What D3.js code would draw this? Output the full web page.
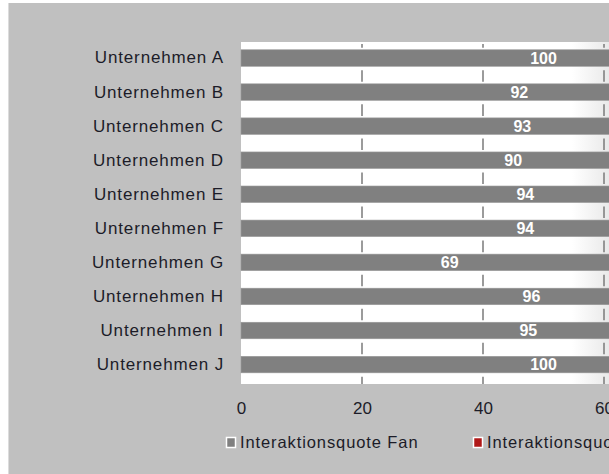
<!DOCTYPE html>
<html>
<head>
<meta charset="utf-8">
<script src="https://cdn.jsdelivr.net/npm/d3@7"></script>
<style>
  html, body { margin: 0; padding: 0; background: #fff; }
  svg { display: block; }
  text { font-family: "Liberation Sans", Arial, sans-serif; }
</style>
</head>
<body>
<svg id="chart" width="609" height="474"></svg>
<script>
// Unternehmen und ihre Interaktionsquote der Fans (in %)
const categories = ["Unternehmen A", "Unternehmen B", "Unternehmen C", "Unternehmen D", "Unternehmen E",
                    "Unternehmen F", "Unternehmen G", "Unternehmen H", "Unternehmen I", "Unternehmen J"];
const fanValues = [100, 92, 93, 90, 94, 94, 69, 96, 95, 100];
const xTicks = [0, 20, 40, 60];
const seriesNames = ["Interaktionsquote Fan", "Interaktionsquote Nicht-Fan"];
const seriesColors = ["#808080", "#b01818"];

const W = 609, H = 474;
const plot = { left: 241, top: 42, bottom: 384 };

const svg = d3.select("#chart");

// Hintergrund des Diagrammbereichs
svg.append("rect").attr("x", 9).attr("y", 3).attr("width", W - 9).attr("height", H - 3).attr("fill", "#c0c0c0");
svg.append("line").attr("x1", 8.5).attr("x2", 8.5).attr("y1", 3).attr("y2", H)
  .attr("stroke", "#dcdcdc").attr("stroke-width", 1);

const defs = svg.append("defs");
const grad = defs.append("linearGradient").attr("id", "plotFade")
  .attr("gradientUnits", "userSpaceOnUse").attr("x1", 572).attr("x2", W).attr("y1", 0).attr("y2", 0);
grad.append("stop").attr("offset", 0).attr("stop-color", "#ffffff");
grad.append("stop").attr("offset", 1).attr("stop-color", "#e9e9e9");

// Zeichenfläche
svg.append("rect").attr("x", plot.left).attr("y", plot.top)
  .attr("width", W - plot.left).attr("height", plot.bottom - plot.top)
  .attr("fill", "url(#plotFade)");

const x = d3.scaleLinear().domain([0, 100]).range([plot.left, plot.left + 605]);
const y = d3.scaleBand().domain(categories).range([41, 381.6]).paddingInner(0.515).paddingOuter(0.2575);

// Gitterstriche zwischen den Balken
const bw = y.bandwidth();
const gaps = [];
for (let i = -1; i < categories.length; i++) {
  const y0 = i < 0 ? plot.top + 2 : y(categories[i]) + bw + 4;
  const y1 = i === categories.length - 1 ? plot.bottom : y(categories[i + 1]) - 2;
  gaps.push([y0, y1]);
}
const gridG = svg.append("g");
xTicks.filter(t => t > 0).forEach(t => {
  gridG.selectAll(null).data(gaps).join("line")
    .attr("x1", x(t)).attr("x2", x(t))
    .attr("y1", d => d[0]).attr("y2", d => d[1])
    .attr("stroke", "#7a7a7a").attr("stroke-width", 1.5);
});

// Balken
svg.append("g").selectAll("rect").data(fanValues).join("rect")
  .attr("x", x(0))
  .attr("y", (d, i) => y(categories[i]))
  .attr("width", d => x(d) - x(0))
  .attr("height", bw)
  .attr("fill", seriesColors[0])
  .attr("stroke", "#9a9a9a").attr("stroke-width", 0.6);

// Werte-Beschriftungen in Balkenmitte
svg.append("g").selectAll("text").data(fanValues).join("text")
  .attr("x", d => x(d / 2))
  .attr("y", (d, i) => y(categories[i]) + bw / 2)
  .attr("dy", "0.36em")
  .attr("text-anchor", "middle")
  .attr("font-size", 16)
  .attr("font-weight", "bold")
  .attr("fill", "#ffffff")
  .text(d => d);

// Kategorienachse
const yAxis = svg.append("g").attr("transform", `translate(${plot.left},0)`)
  .call(d3.axisLeft(y).tickSize(0).tickPadding(17));
yAxis.select(".domain").remove();
yAxis.selectAll("text").attr("font-size", 17).attr("fill", "#1c1c28")
  .attr("font-family", "'Liberation Sans', Arial, sans-serif").attr("letter-spacing", "0.85px");

// Werteachse
const xAxis = svg.append("g").attr("transform", `translate(0,${plot.bottom})`)
  .call(d3.axisBottom(x).tickValues(xTicks).tickSize(0).tickPadding(18).tickFormat(d3.format("d")));
xAxis.select(".domain").remove();
xAxis.selectAll("text").attr("font-size", 17).attr("fill", "#1c1c28")
  .attr("font-family", "'Liberation Sans', Arial, sans-serif");

// Legende
const legendX = [226, 473];
const legend = svg.append("g");
seriesNames.forEach((name, i) => {
  const g = legend.append("g").attr("transform", `translate(${legendX[i]},437)`);
  g.append("rect").attr("x", 0.5).attr("y", 0.5).attr("width", 9).attr("height", 10)
    .attr("fill", seriesColors[i]).attr("stroke", "#ffffff").attr("stroke-width", 1.5);
  g.append("text").attr("x", 14).attr("y", 5.5).attr("dy", "0.36em")
    .attr("font-size", 16.5).attr("fill", "#1c1c28").attr("letter-spacing", "0.9px")
    .text(name);
});
</script>
</body>
</html>
